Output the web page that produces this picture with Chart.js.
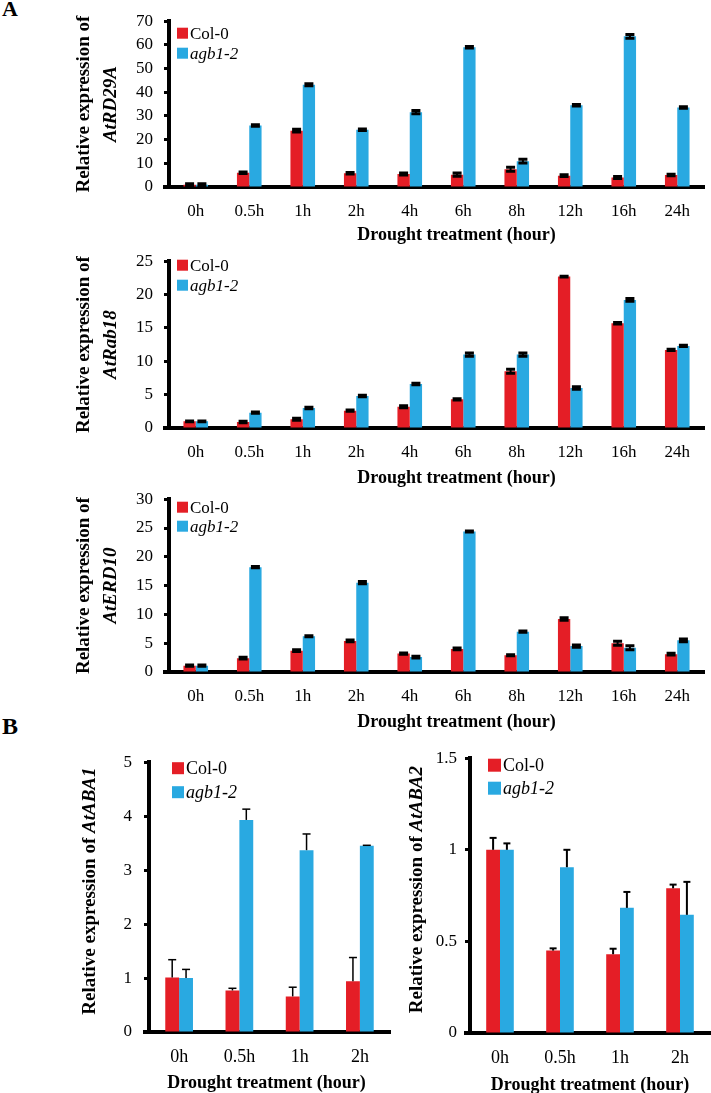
<!DOCTYPE html>
<html><head><meta charset="utf-8">
<script src="https://cdn.jsdelivr.net/npm/chart.js@4.4.0/dist/chart.umd.min.js"></script>
<style>
html,body{margin:0;padding:0;background:#fff;}
body{width:711px;height:1093px;position:relative;overflow:hidden;font-family:'Liberation Serif','Times New Roman',serif;}
.pl{position:absolute;font-weight:bold;color:#000;line-height:1;}
canvas{position:absolute;}
</style></head><body>
<div class="pl" style="left:2px;top:-2px;font-size:22px;">A</div>
<div class="pl" style="left:2px;top:714px;font-size:24px;">B</div>
<canvas id="c1" width="711" height="250" style="left:0;top:0;"></canvas>
<canvas id="c2" width="711" height="250" style="left:0;top:240px;"></canvas>
<canvas id="c3" width="711" height="262" style="left:0;top:478px;"></canvas>
<canvas id="c4" width="395" height="353" style="left:0;top:740px;"></canvas>
<canvas id="c5" width="316" height="353" style="left:395px;top:740px;"></canvas>
<script>
// ---------- data ----------
const hoursA = ['0h','0.5h','1h','2h','4h','6h','8h','12h','16h','24h'];
const hoursB = ['0h','0.5h','1h','2h'];
const seriesNames = ['Col-0','agb1-2'];
const xTitle = 'Drought treatment (hour)';
const yPrefix = 'Relative expression of';

// AtRD29A
const rd29aCol    = [1.0, 6.0, 23.8, 5.8, 5.5, 5.2, 7.5, 4.8, 4.0, 5.1];
const rd29aColErr = [0.4, 0.3, 0.6, 0.3, 0.4, 0.7, 0.8, 0.4, 0.4, 0.3];
const rd29aAgb    = [1.0, 26.0, 43.2, 24.2, 31.6, 59.0, 10.9, 34.5, 63.6, 33.6];
const rd29aAgbErr = [0.4, 0.3, 0.4, 0.3, 0.7, 0.3, 0.8, 0.3, 0.8, 0.3];
// AtRab18
const rab18Col    = [1.0, 0.9, 1.3, 2.6, 3.2, 4.3, 8.5, 22.7, 15.7, 11.7];
const rab18ColErr = [0.05, 0.1, 0.15, 0.1, 0.15, 0.1, 0.3, 0.05, 0.1, 0.1];
const rab18Agb    = [1.0, 2.3, 3.0, 4.8, 6.6, 11.0, 11.0, 6.0, 19.2, 12.3];
const rab18AgbErr = [0.05, 0.1, 0.1, 0.1, 0.1, 0.25, 0.25, 0.2, 0.2, 0.1];
// AtERD10
const erd10Col    = [1.1, 2.4, 3.7, 5.4, 3.2, 4.0, 2.9, 9.2, 5.0, 3.1];
const erd10ColErr = [0.1, 0.15, 0.15, 0.15, 0.1, 0.15, 0.1, 0.2, 0.35, 0.15];
const erd10Agb    = [1.1, 18.2, 6.2, 15.5, 2.6, 24.4, 7.0, 4.5, 4.2, 5.5];
const erd10AgbErr = [0.1, 0.1, 0.1, 0.2, 0.15, 0.1, 0.1, 0.2, 0.35, 0.25];
// AtABA1
const aba1Col    = [1.01, 0.77, 0.66, 0.94];
const aba1ColErr = [0.33, 0.04, 0.17, 0.44];
const aba1Agb    = [1.0, 3.93, 3.37, 3.45];
const aba1AgbErr = [0.16, 0.2, 0.3, 0.01];
// AtABA2
const aba2Col    = [1.0, 0.45, 0.43, 0.79];
const aba2ColErr = [0.065, 0.012, 0.03, 0.02];
const aba2Agb    = [1.0, 0.905, 0.683, 0.645];
const aba2AgbErr = [0.035, 0.095, 0.087, 0.18];

// ---------- styling ----------
const FONT = "'Liberation Serif','Times New Roman',serif";
const RED = '#E41E26', BLUE = '#29A9E1';

const errorBars = {
  id: 'errorBars',
  afterDatasetsDraw(chart, args, o) {
    const ctx = chart.ctx, ys = chart.scales.y;
    chart.data.datasets.forEach((ds, i) => {
      chart.getDatasetMeta(i).data.forEach((bar, j) => {
        const v = ds.data[j], e = ds.errors[j];
        const x = bar.x;
        const yT = ys.getPixelForValue(v + e);
        const yB = o.both ? ys.getPixelForValue(v - e) : bar.y;
        ctx.save();
        ctx.strokeStyle = '#000';
        ctx.lineWidth = o.lineWidth;
        ctx.beginPath();
        ctx.moveTo(x, yB); ctx.lineTo(x, yT);
        ctx.stroke();
        ctx.lineWidth = o.capWidth;
        ctx.beginPath();
        ctx.moveTo(x - o.cap/2, yT); ctx.lineTo(x + o.cap/2, yT);
        if (o.both) { ctx.moveTo(x - o.cap/2, yB); ctx.lineTo(x + o.cap/2, yB); }
        ctx.stroke();
        ctx.restore();
      });
    });
  }
};

const legendBox = {
  id: 'legendBox',
  afterDraw(chart, args, o) {
    const ctx = chart.ctx, ca = chart.chartArea;
    ctx.save();
    chart.data.datasets.forEach((ds, i) => {
      const cy = ca.top + o.y0 + i * o.dy;
      const x = ca.left + o.x0;
      ctx.fillStyle = ds.backgroundColor;
      ctx.fillRect(x, cy - o.box/2, o.box, o.box);
      ctx.fillStyle = '#000';
      ctx.font = (ds.italic ? 'italic ' : '') + o.size + 'px ' + FONT;
      ctx.textBaseline = 'middle'; ctx.textAlign = 'left';
      ctx.fillText(ds.label, x + o.box + 2, cy + 1);
    });
    ctx.restore();
  }
};

const axisTitles = {
  id: 'axisTitles',
  afterDraw(chart, args, o) {
    const ctx = chart.ctx, ca = chart.chartArea;
    ctx.save();
    ctx.fillStyle = '#000';
    ctx.font = 'bold ' + o.xSize + 'px ' + FONT;
    ctx.textAlign = 'center'; ctx.textBaseline = 'middle';
    ctx.fillText(o.xText, (ca.left + ca.right)/2 + o.xShift, ca.bottom + o.xDy);
    const cy = (ca.top + ca.bottom)/2 + (o.yShift || 0);
    o.yLines.forEach(line => {
      let total = 0;
      line.segs.forEach(s => {
        ctx.font = (s.it ? 'italic ' : '') + 'bold ' + o.ySize + 'px ' + FONT;
        s.w = ctx.measureText(s.t).width; total += s.w;
      });
      ctx.save();
      ctx.translate(ca.left + line.dx, cy);
      ctx.rotate(-Math.PI/2);
      ctx.textAlign = 'left'; ctx.textBaseline = 'middle';
      let xx = -total/2;
      line.segs.forEach(s => {
        ctx.font = (s.it ? 'italic ' : '') + 'bold ' + o.ySize + 'px ' + FONT;
        ctx.fillText(s.t, xx, 0); xx += s.w;
      });
      ctx.restore();
    });
    ctx.restore();
  }
};

// x-axis line extends a few px left of the y axis, as in the figure
const axisStub = {
  id: 'axisStub',
  afterDraw(chart, args, o) {
    const ctx = chart.ctx, ca = chart.chartArea;
    ctx.save();
    ctx.strokeStyle = '#000'; ctx.lineWidth = 4;
    ctx.beginPath(); ctx.moveTo(ca.left - 6, ca.bottom); ctx.lineTo(ca.left, ca.bottom); ctx.stroke();
    ctx.restore();
  }
};

function panel(id, c) {
  new Chart(document.getElementById(id), {
    type: 'bar',
    data: {
      labels: c.labels,
      datasets: [
        {label: seriesNames[0], data: c.col, errors: c.colErr, backgroundColor: RED, italic: false},
        {label: seriesNames[1], data: c.agb, errors: c.agbErr, backgroundColor: BLUE, italic: true}
      ]
    },
    options: {
      responsive: false, animation: false, devicePixelRatio: 1,
      layout: {padding: {top: 16, right: c.padR, left: 0, bottom: 0}},
      datasets: {bar: {categoryPercentage: c.catPct, barPercentage: 1, borderWidth: 0}},
      plugins: {
        legend: {display: false}, tooltip: {enabled: false},
        errorBars: c.err,
        legendBox: c.legend,
        axisTitles: {xText: xTitle, xSize: c.xTitleSize, xShift: c.xShift, xDy: c.xDy,
                     ySize: 19, yLines: c.yLines, yShift: c.yShift || 0}
      },
      scales: {
        x: {
          grid: {display: false, drawTicks: false},
          border: {display: true, color: '#000', width: 4},
          ticks: {color: '#000', font: {family: FONT, size: c.xTick}, padding: c.xPad, maxRotation: 0, autoSkip: false},
          afterFit: s => { s.height = c.xH; }
        },
        y: {
          min: 0, max: c.max,
          ticks: {stepSize: c.step, color: '#000', font: {family: FONT, size: 17}, padding: c.yPad,
                  callback: v => String(+v.toFixed(2))},
          grid: {drawOnChartArea: false, drawTicks: true, tickLength: 5, tickWidth: 3, tickColor: '#000', color: '#000'},
          border: {display: true, color: '#000', width: 4},
          afterFit: s => { s.width = c.yW; }
        }
      }
    },
    plugins: [errorBars, legendBox, axisTitles, axisStub]
  });
}

const errA = {both: true, lineWidth: 2, capWidth: 3, cap: 9};
const titleA = g => [{dx: -85, segs: [{t: yPrefix, it: false}]}, {dx: -58, segs: [{t: g, it: true}]}];

panel('c1', {labels: hoursA, col: rd29aCol, colErr: rd29aColErr, agb: rd29aAgb, agbErr: rd29aAgbErr,
  max: 70, step: 10, yW: 169, padR: 7, xH: 63, catPct: 0.46, xTick: 17, xPad: 14, yPad: 11,
  err: errA, legend: {x0: 8, y0: 12, dy: 20, box: 11, size: 17},
  xTitleSize: 18, xShift: 20, xDy: 48, yLines: titleA('AtRD29A')});
panel('c2', {labels: hoursA, col: rab18Col, colErr: rab18ColErr, agb: rab18Agb, agbErr: rab18AgbErr,
  max: 25, step: 5, yW: 169, padR: 7, xH: 62, catPct: 0.46, xTick: 17, xPad: 14, yPad: 11,
  err: errA, legend: {x0: 8, y0: 4, dy: 20, box: 11, size: 17},
  xTitleSize: 18, xShift: 20, xDy: 50, yLines: titleA('AtRab18')});
panel('c3', {labels: hoursA, col: erd10Col, colErr: erd10ColErr, agb: erd10Agb, agbErr: erd10AgbErr,
  max: 30, step: 5, yW: 169, padR: 7, xH: 68, catPct: 0.46, xTick: 17, xPad: 14, yPad: 11,
  err: errA, legend: {x0: 8, y0: 8, dy: 19, box: 11, size: 17},
  xTitleSize: 18, xShift: 20, xDy: 50, yLines: titleA('AtERD10')});
panel('c4', {labels: hoursB, col: aba1Col, colErr: aba1ColErr, agb: aba1Agb, agbErr: aba1AgbErr,
  max: 5, step: 1, yW: 149, padR: 5, xH: 61, catPct: 0.46, xTick: 18, xPad: 14, yPad: 12,
  err: {both: false, lineWidth: 1.5, capWidth: 1.5, cap: 8}, legend: {x0: 23, y0: 6, dy: 24, box: 12, size: 18},
  xTitleSize: 18, xShift: -3, xDy: 51, yShift: -6,
  yLines: [{dx: -59, segs: [{t: yPrefix + ' ', it: false}, {t: 'AtABA1', it: true}]}]});
panel('c5', {labels: hoursB, col: aba2Col, colErr: aba2ColErr, agb: aba2Agb, agbErr: aba2AgbErr,
  max: 1.5, step: 0.5, yW: 75, padR: 1, xH: 60, catPct: 0.46, xTick: 18, xPad: 14, yPad: 8,
  err: {both: false, lineWidth: 2, capWidth: 2, cap: 7}, legend: {x0: 18, y0: 7, dy: 23, box: 13, size: 18},
  xTitleSize: 18, xShift: 0, xDy: 52, yShift: -6,
  yLines: [{dx: -53, segs: [{t: yPrefix + ' ', it: false}, {t: 'AtABA2', it: true}]}]});
</script>
</body></html>
